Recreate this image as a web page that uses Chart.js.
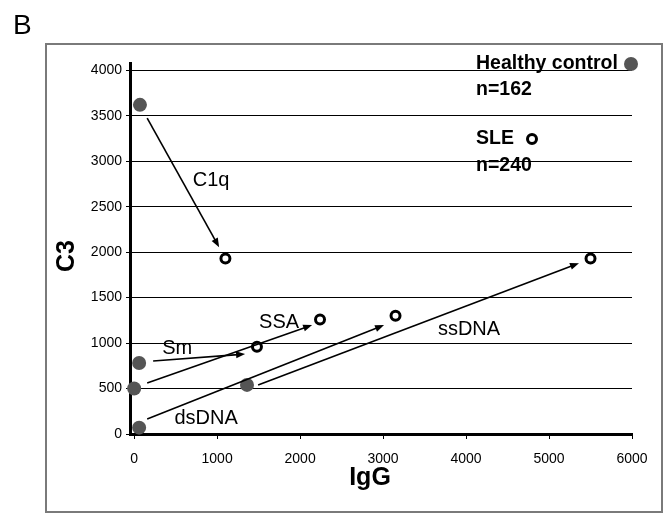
<!DOCTYPE html>
<html>
<head>
<meta charset="utf-8">
<script src="https://cdn.jsdelivr.net/npm/chart.js@4/dist/chart.umd.min.js"></script>
<style>
  html,body{margin:0;padding:0;background:#fff;}
  #wrap{position:relative;width:668px;height:518px;}
</style>
</head>
<body>
<div id="wrap"><canvas id="c" width="668" height="518"></canvas></div>
<script>
// data (IgG vs C3)
const antigens   = ['C1q','Sm','SSA','dsDNA','ssDNA'];
const healthyIgG = [70, 60, 0, 60, 1360];
const healthyC3  = [3620, 780, 500, 70, 540];
const sleIgG     = [1100, 1480, 2240, 3150, 5500];
const sleC3      = [1930, 960, 1260, 1300, 1930];
// arrows: start / end in data units
const arrowFromX = [157, 229, 157, 157, 1494];
const arrowFromY = [3473, 802, 560, 165, 538];
const arrowToX   = [1024, 1337, 2145, 3012, 5361];
const arrowToY   = [2055, 879, 1198, 1198, 1879];
// labels next to arrows
const labelX = [928, 518, 1747, 867, 4036];
const labelY = [2791, 945, 1231, 176, 1154];
const xTicks = [0,1000,2000,3000,4000,5000,6000];
const yTicks = [0,500,1000,1500,2000,2500,3000,3500,4000];

const FONT = '"Liberation Sans", Arial, sans-serif';
const GRAY = '#555555';

const healthyPts = healthyIgG.map((x,i)=>({x, y:healthyC3[i]}));
const slePts = sleIgG.map((x,i)=>({x, y:sleC3[i]}));

function arrow(ctx, x1,y1,x2,y2){
  const a = Math.atan2(y2-y1, x2-x1), L=9, W=3.5;
  ctx.beginPath(); ctx.moveTo(x1,y1); ctx.lineTo(x2-Math.cos(a)*L*0.8, y2-Math.sin(a)*L*0.8); ctx.stroke();
  ctx.beginPath();
  ctx.moveTo(x2,y2);
  ctx.lineTo(x2-L*Math.cos(a)+W*Math.sin(a), y2-L*Math.sin(a)-W*Math.cos(a));
  ctx.lineTo(x2-L*Math.cos(a)-W*Math.sin(a), y2-L*Math.sin(a)+W*Math.cos(a));
  ctx.closePath(); ctx.fill();
}

const decor = {
  id:'decor',
  beforeDraw(chart){
    const ctx = chart.ctx;
    ctx.save();
    ctx.fillStyle='#fff'; ctx.fillRect(0,0,chart.width,chart.height);
    ctx.strokeStyle='#7a7a7a'; ctx.lineWidth=2;
    ctx.strokeRect(46,44,616,468);
    ctx.fillStyle='#000'; ctx.font='28px '+FONT; ctx.textBaseline='top'; ctx.textAlign='left';
    ctx.fillText('B', 13, 12);
    ctx.restore();
  },
  afterDatasetsDraw(chart){
    const ctx = chart.ctx, xs = chart.scales.x, ys = chart.scales.y;
    ctx.save();
    ctx.strokeStyle='#000'; ctx.fillStyle='#000'; ctx.lineWidth=1.6;
    antigens.forEach((n,i)=>{
      arrow(ctx, xs.getPixelForValue(arrowFromX[i]), ys.getPixelForValue(arrowFromY[i]),
                 xs.getPixelForValue(arrowToX[i]), ys.getPixelForValue(arrowToY[i]));
    });
    ctx.font='20px '+FONT; ctx.textAlign='center'; ctx.textBaseline='middle';
    antigens.forEach((n,i)=>{
      ctx.fillText(n, xs.getPixelForValue(labelX[i]), ys.getPixelForValue(labelY[i]));
    });
    // axis titles
    ctx.font='bold 25px '+FONT;
    ctx.fillText('IgG', 370, 478);
    ctx.save(); ctx.translate(67,256); ctx.rotate(-Math.PI/2); ctx.fillText('C3',0,0); ctx.restore();
    // legend
    const ca = chart.chartArea;
    ctx.font='bold 19.5px '+FONT; ctx.textAlign='left';
    ctx.fillText('Healthy control', ca.right-156, 64);
    ctx.fillText('n=162', ca.right-156, 90);
    ctx.fillText('SLE', ca.right-156, 139);
    ctx.fillText('n=240', ca.right-156, 166);
    ctx.fillStyle=GRAY; ctx.beginPath(); ctx.arc(ca.right-1, 64, 7, 0, Math.PI*2); ctx.fill();
    ctx.strokeStyle='#000'; ctx.lineWidth=3; ctx.fillStyle='#fff';
    ctx.beginPath(); ctx.arc(ca.right-100, 139, 4.5, 0, Math.PI*2); ctx.fill(); ctx.stroke();
    ctx.restore();
  }
};

new Chart(document.getElementById('c'), {
  type:'scatter',
  data:{
    datasets:[
      {label:'Healthy control', data:healthyPts, pointRadius:7, pointHoverRadius:7,
       backgroundColor:GRAY, borderColor:GRAY, borderWidth:0, clip:false},
      {label:'SLE', data:slePts, pointRadius:4.5, pointHoverRadius:4.5,
       backgroundColor:'#fff', borderColor:'#000', pointBorderWidth:3, borderWidth:3, clip:false}
    ]
  },
  options:{
    responsive:false, animation:false,
    layout:{padding:{left:0, top:63, right:36, bottom:0}},
    plugins:{legend:{display:false}, tooltip:{enabled:false}},
    scales:{
      x:{
        type:'linear', min:-50, max:6000,
        afterBuildTicks:s=>{ s.ticks = xTicks.map(v=>({value:v})); },
        afterFit:s=>{ s.height = 84; },
        grid:{drawOnChartArea:false, drawTicks:true, tickLength:5, color:'#000', lineWidth:1},
        border:{display:true, color:'#000', width:3},
        ticks:{font:{family:FONT, size:14}, color:'#000', padding:12, maxRotation:0, callback:v=>String(v)}
      },
      y:{
        type:'linear', min:0, max:4080,
        afterBuildTicks:s=>{ s.ticks = yTicks.map(v=>({value:v})); },
        afterFit:s=>{ s.width = 130; },
        grid:{drawOnChartArea:true, drawTicks:true, tickLength:4, color:'#000', lineWidth:1},
        border:{display:true, color:'#000', width:3},
        ticks:{font:{family:FONT, size:14}, color:'#000', padding:4, callback:v=>String(v)}
      }
    }
  },
  plugins:[decor]
});
</script>
</body>
</html>
